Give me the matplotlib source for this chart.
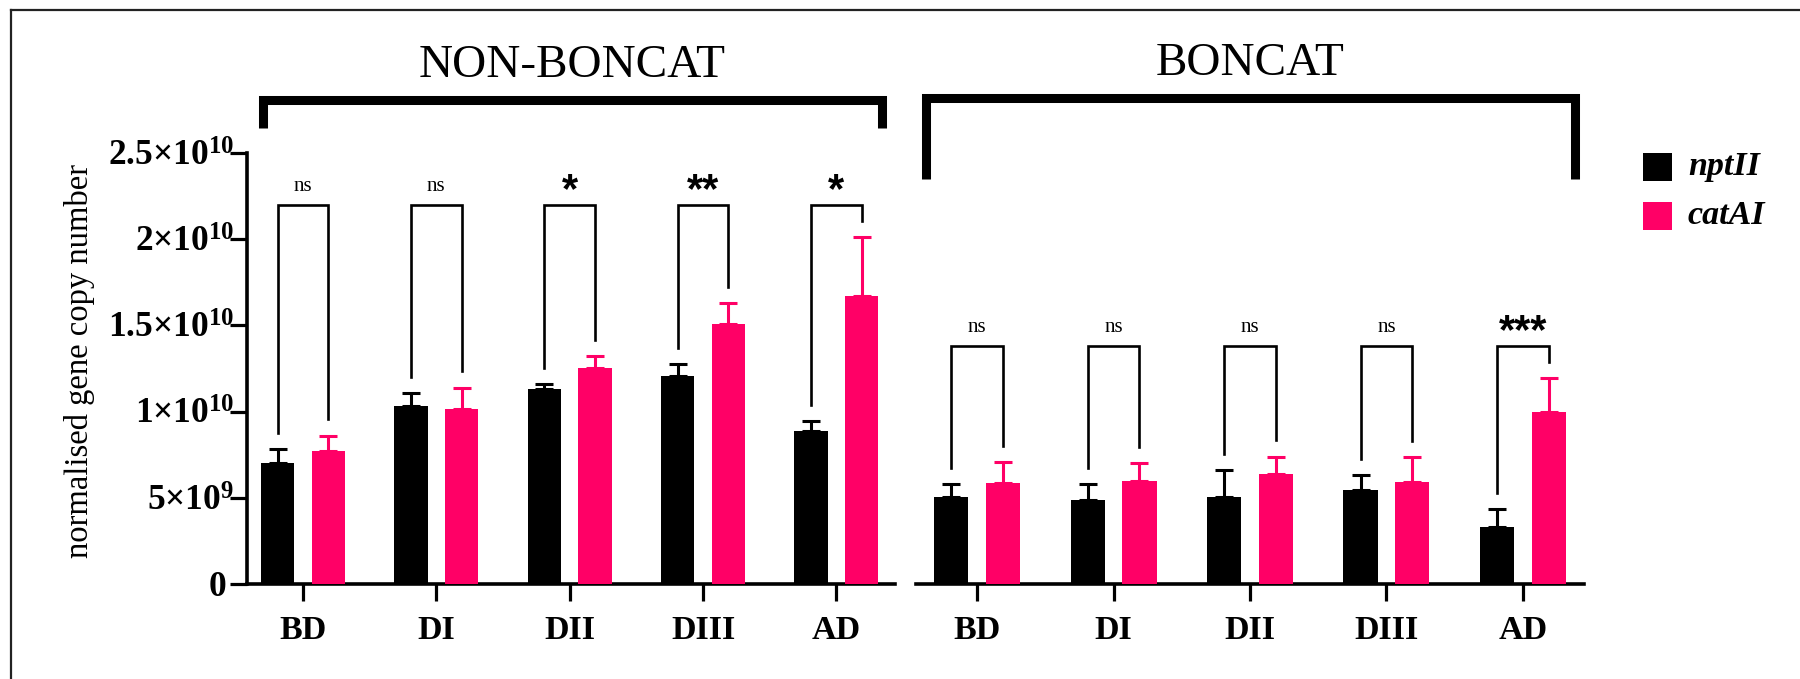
import numpy as np
import matplotlib
matplotlib.use("Agg")
import matplotlib.pyplot as plt
from matplotlib.lines import Line2D
from matplotlib.patches import Rectangle
from matplotlib.transforms import ScaledTranslation

plt.rcParams["font.family"] = ["Liberation Serif", "DejaVu Serif"]
plt.rcParams["mathtext.fontset"] = "custom"
plt.rcParams["mathtext.rm"] = "Liberation Serif:bold"
plt.rcParams["mathtext.bf"] = "Liberation Serif:bold"
plt.rcParams["mathtext.it"] = "Liberation Serif:bold:italic"

# ---- data (gene copy numbers, x1e9) ----
stages = ["BD", "DI", "DII", "DIII", "AD"]
panels = ["NON-BONCAT", "BONCAT"]
genes = ["nptII", "catAI"]

nonboncat_nptII = [7.04, 10.33, 11.33, 12.06, 8.87]
nonboncat_nptII_sd = [0.77, 0.73, 0.25, 0.68, 0.57]
nonboncat_catAI = [7.73, 10.17, 12.55, 15.08, 16.72]
nonboncat_catAI_sd = [0.87, 1.22, 0.68, 1.20, 3.38]
nonboncat_sig = ["ns", "ns", "*", "**", "*"]

boncat_nptII = [5.06, 4.87, 5.06, 5.45, 3.32]
boncat_nptII_sd = [0.72, 0.91, 1.55, 0.87, 1.03]
boncat_catAI = [5.88, 5.96, 6.36, 5.92, 9.96]
boncat_catAI_sd = [1.20, 1.04, 1.02, 1.45, 1.97]
boncat_sig = ["ns", "ns", "ns", "ns", "***"]

yticks = [0, 5e9, 1e10, 1.5e10, 2e10, 2.5e10]
ytick_labels = [r"$0$", r"$5{\times}10^{9}$", r"$1{\times}10^{10}$",
                r"$1.5{\times}10^{10}$", r"$2{\times}10^{10}$",
                r"$2.5{\times}10^{10}$"]

SCALE = 1e9
BLACK = "#000000"
PINK = "#FF0066"

W, H = 1800, 679
fig = plt.figure(figsize=(W / 100, H / 100), dpi=100)


def fx(px):
    return px / W


def fy(py):
    return 1 - py / H


ax1 = fig.add_axes([fx(247), fy(584), fx(895 - 247), (584 - 153) / H])
ax2 = fig.add_axes([fx(915.7), fy(584), fx(1584.3 - 915.7), (584 - 153) / H])

panel_data = [
    (ax1, nonboncat_nptII, nonboncat_nptII_sd, nonboncat_catAI, nonboncat_catAI_sd,
     nonboncat_sig, 22.0e9, (-0.42, 4.44)),
    (ax2, boncat_nptII, boncat_nptII_sd, boncat_catAI, boncat_catAI_sd,
     boncat_sig, 13.8e9, (-0.45, 4.45)),
]

off = 0.19
bw = 0.25
leg_gap = 0.95e9

for ax, npt, npt_sd, cat, cat_sd, sig, top, xl in panel_data:
    x = np.arange(len(stages))
    npt_v = np.array(npt) * SCALE
    npt_e = np.array(npt_sd) * SCALE
    cat_v = np.array(cat) * SCALE
    cat_e = np.array(cat_sd) * SCALE

    ax.errorbar(x - off, npt_v, yerr=[np.zeros_like(npt_e), npt_e], fmt="none",
                ecolor=BLACK, elinewidth=2.2, capsize=6.5, capthick=2.2, zorder=2)
    ax.errorbar(x + off, cat_v, yerr=[np.zeros_like(cat_e), cat_e], fmt="none",
                ecolor=PINK, elinewidth=2.2, capsize=6.5, capthick=2.2, zorder=2)
    ax.bar(x - off, npt_v, width=bw, color=BLACK, zorder=3)
    ax.bar(x + off, cat_v, width=bw, color=PINK, zorder=3)

    # significance brackets
    for i, s in enumerate(sig):
        x1, x2 = i - off, i + off
        y1 = npt_v[i] + npt_e[i] + leg_gap
        y2 = cat_v[i] + cat_e[i] + leg_gap
        ax.plot([x1, x1, x2, x2], [y1, top, top, y2], color=BLACK, lw=1.9,
                solid_joinstyle="miter", clip_on=False, zorder=4)
        if s == "ns":
            ax.text(i, top + 0.8e9, s, ha="center", va="baseline", fontsize=15,
                    color=BLACK)
        else:
            ax.text(i, top + 0.15e9, s, ha="center", va="baseline", fontsize=30,
                    fontweight="bold", family=["Liberation Sans", "DejaVu Sans"],
                    color=BLACK)

    ax.set_xlim(*xl)
    ax.set_ylim(0, 2.5e10)
    ax.set_xticks(x)
    ax.set_xticklabels(stages, fontsize=24.5, fontweight="bold")
    ax.tick_params(axis="x", length=12, width=2.3, pad=10, color=BLACK)
    for sp in ["top", "right"]:
        ax.spines[sp].set_visible(False)
    ax.spines["bottom"].set_linewidth(2.6)
    ax.spines["left"].set_linewidth(2.6)
    ax.patch.set_alpha(0)

ax1.set_yticks(yticks)
ax1.set_yticklabels(ytick_labels, fontsize=25.5)
ax1.tick_params(axis="y", length=12, width=2.3, pad=3, color=BLACK)
# pull the powers-of-ten labels in toward their ticks
for lab in ax1.get_yticklabels()[1:]:
    lab.set_transform(lab.get_transform() + ScaledTranslation(0.08, 0, fig.dpi_scale_trans))
ax2.spines["left"].set_visible(False)
ax2.set_yticks([])

fig.text(fx(80), fy(361), "normalised gene copy number", rotation=90,
         ha="center", va="center", fontsize=23.5)

# group brackets and headings
def group_bracket(xl, xr, ytop, ybot):
    fig.add_artist(Line2D([fx(xl), fx(xl), fx(xr), fx(xr)],
                          [fy(ybot), fy(ytop), fy(ytop), fy(ybot)],
                          transform=fig.transFigure, color=BLACK, lw=6.5,
                          solid_joinstyle="miter", solid_capstyle="butt"))


group_bracket(262.5, 882, 99.5, 128)
group_bracket(926, 1575, 97.5, 179)
fig.text(fx(572), fy(66), panels[0], ha="center", va="center", fontsize=34)
fig.text(fx(1250), fy(64), panels[1], ha="center", va="center", fontsize=34)

# legend
for j, (g, c) in enumerate(zip(genes, [BLACK, PINK])):
    ytop = 153 + j * 49
    fig.add_artist(Rectangle((fx(1643), fy(ytop + 28)), fx(29), 28 / H,
                             transform=fig.transFigure, facecolor=c, edgecolor="none"))
    fig.text(fx(1688), fy(ytop + 14), g, ha="left", va="center", fontsize=24.5,
             fontweight="bold", fontstyle="italic")

# outer frame (top and left edges)
fig.add_artist(Line2D([fx(11), 1], [fy(10), fy(10)], transform=fig.transFigure,
                      color="#222222", lw=1.6))
fig.add_artist(Line2D([fx(11), fx(11)], [fy(10), 0], transform=fig.transFigure,
                      color="#222222", lw=1.6))

fig.savefig("out.png", dpi=100, facecolor="white")
